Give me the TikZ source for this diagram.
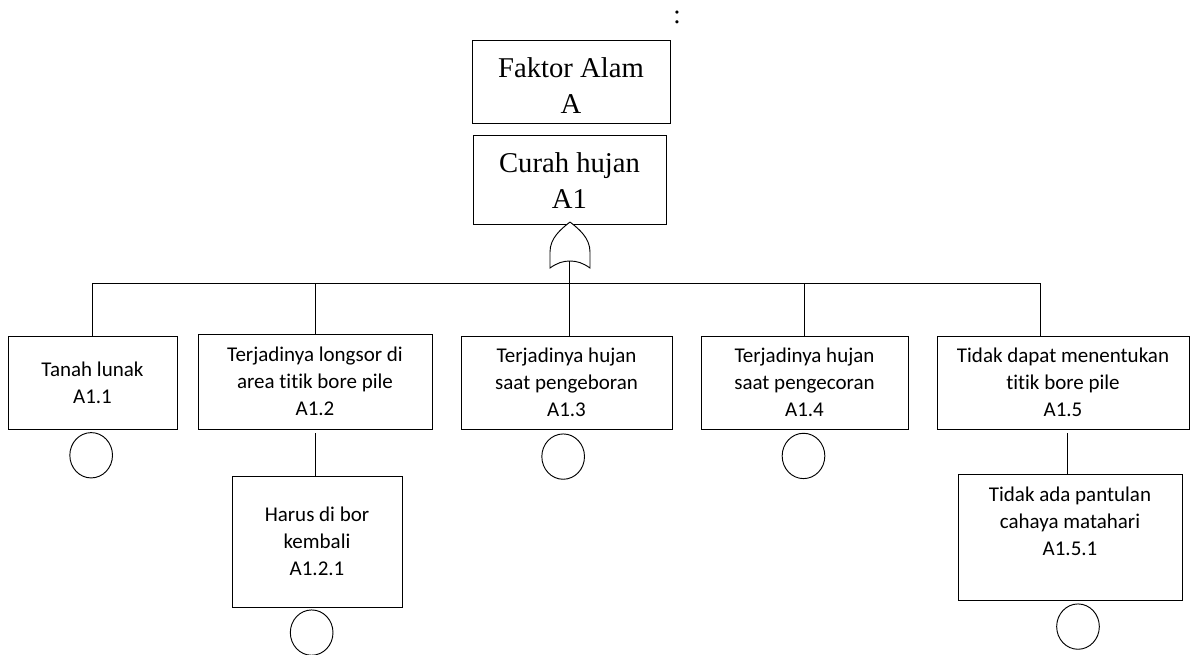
\documentclass[tikz,border=0pt]{standalone}
\usepackage{fontspec}
\setmainfont{Liberation Serif}
\newfontfamily\eventfont[Ligatures=NoCommon]{Carlito}
\usetikzlibrary{positioning,shapes.geometric}
\tikzset{
  topevent/.style={draw, line width=0.7pt, inner sep=0pt, align=center, text depth=0pt, font=\fontsize{21.5}{27}\selectfont},
  subevent/.style={draw, line width=0.7pt, inner sep=0pt, align=center, font=\eventfont\fontsize{15.75}{20.25}\selectfont},
  basicevent/.style={draw, line width=0.7pt, ellipse, inner sep=0pt, minimum width=32pt, minimum height=34pt},
  link/.style={line width=0.7pt}
}

\begin{document}
\begin{tikzpicture}[x=0.75pt, y=-0.75pt]
\useasboundingbox (0,0) rectangle (1190,654);

% top events
\node[font=\fontsize{20}{24}\selectfont] (colon) at (677,17) {:};
\node[topevent, minimum width=148.5pt, minimum height=62.25pt, text height=47.25pt] (alam) at (571,81.5) {Faktor Alam\\A};
\node[topevent, minimum width=144.75pt, minimum height=66.75pt, text height=42.75pt] (a1) at (569.5,179.5) {Curah hujan\\A1};

% OR gate
\draw[link, fill=white] (570,222) .. controls (561,229) and (550,238) .. (550,252) -- (550,268)
  .. controls (557,263) and (563,261) .. (570,261) .. controls (577,261) and (583,263) .. (590,268)
  -- (590,252) .. controls (590,238) and (579,229) .. (570,222);
\coordinate (gate) at (569,261);
\coordinate (bus) at (569,283);

% level 1
\node[subevent, minimum width=126.75pt, minimum height=69.75pt] (a11) at (92.5,382.5) {Tanah lunak\\A1.1};
\node[subevent, minimum width=175.5pt, minimum height=71.25pt] (a12) at (315,381.5) {Terjadinya longsor di\\area titik bore pile\\A1.2};
\node[subevent, minimum width=158.25pt, minimum height=69.75pt] (a13) at (566.5,382.5) {Terjadinya hujan\\saat pengeboran\\A1.3};
\node[subevent, minimum width=155.25pt, minimum height=69.75pt] (a14) at (804.5,382.5) {Terjadinya hujan\\saat pengecoran\\A1.4};
\node[subevent, minimum width=189pt, minimum height=69.75pt] (a15) at (1063,382.5) {Tidak dapat menentukan\\titik bore pile\\A1.5};

% level 2
\node[subevent, minimum width=127.5pt, minimum height=98.25pt] (a121) at (317,541.5) {Harus di bor\\kembali\\A1.2.1};
\node[subevent, minimum width=168pt, minimum height=94.5pt, text depth=24pt] (a151) at (1070,537) {Tidak ada pantulan\\cahaya matahari\\A1.5.1};

% basic events
\node[basicevent, below=2pt of a11, xshift=-1pt] (e11) {};
\node[basicevent, below=3pt of a13, xshift=-2.5pt] (e13) {};
\node[basicevent, below=2.5pt of a14, xshift=-0.75pt] (e14) {};
\node[basicevent, below=1.5pt of a121, xshift=-4pt] (e121) {};
\node[basicevent, below=2.25pt of a151, xshift=6pt] (e151) {};

% connectors
\draw[link] (gate) -- (gate |- a13.north);
\foreach \n in {a11,a12,a14}
  \draw[link] (\n.north) |- (bus);
\draw[link] ([xshift=-17.25pt]a15.north) |- (bus);
\draw[link] ([yshift=-3pt]a12.south) -- (a12.south |- a121.north);
\draw[link] ([xshift=3pt, yshift=-3pt]a15.south) -- ([xshift=3pt]a15.south |- a151.north);
\end{tikzpicture}
\end{document}
